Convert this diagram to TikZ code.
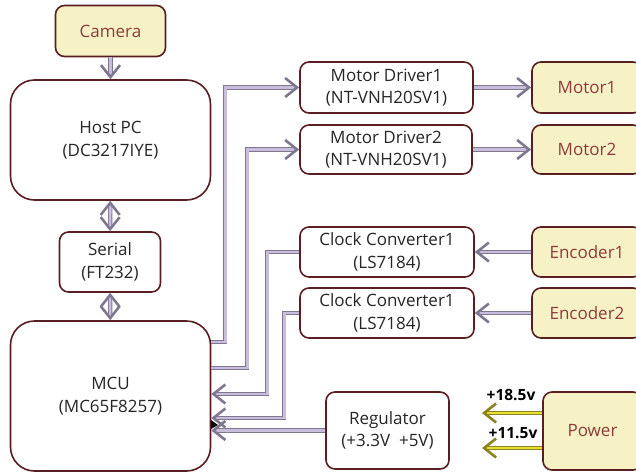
\documentclass[tikz,border=0pt]{standalone}
\usepackage{fontspec}
\setmainfont{Open Sans}
\usetikzlibrary{arrows.meta}
\definecolor{boxline}{HTML}{5A1E22}
\definecolor{yfill}{HTML}{F7F2C6}
\definecolor{ytext}{HTML}{8E3B3B}
\definecolor{lav}{HTML}{C8BEDC}
\definecolor{lavline}{HTML}{7F7790}
\definecolor{pyel}{HTML}{E6E032}
\definecolor{pyline}{HTML}{8A8420}
\tikzset{
  base/.style={draw=boxline, line width=1.6pt, rounded corners=9pt, align=center,
    font=\fontsize{17}{22.5}\selectfont, inner sep=0pt},
  wbox/.style={base, fill=white, text=black!85},
  ybox/.style={base, fill=yfill, text=ytext},
  tipx/.tip={Straight Barb[length=12pt,width=19pt,line width=2.6pt]},
  arr/.style={draw=lavline, line width=0.8pt, double=lav, double distance=2.6pt, -tipx},
  darr/.style={arr, tipx-tipx},
  parr/.style={draw=pyline, line width=0.8pt, double=pyel, double distance=2.6pt, -tipx},
  vlab/.style={font=\fontsize{15.5}{17}\selectfont\bfseries, text=black}
}
\begin{document}
\begin{tikzpicture}[x=1pt,y=-1pt]
\useasboundingbox (0,0) rectangle (636,474);
% nodes
\node[ybox, minimum width=110, minimum height=51] (cam) at (110.5,31) {Camera};
\node[wbox, rounded corners=24pt, minimum width=200, minimum height=120] (host) at (110.5,140) {Host PC\\(DC3217IYE)};
\node[wbox, minimum width=101, minimum height=60] (ser) at (110,262) {Serial\\(FT232)};
\node[wbox, rounded corners=24pt, minimum width=200, minimum height=150] (mcu) at (110.5,396) {MCU\\(MC65F8257)};
\node[wbox, minimum width=173, minimum height=51] (md1) at (386.5,87.5) {Motor Driver1\\(NT-VNH20SV1)};
\node[wbox, minimum width=172, minimum height=49] (md2) at (386,149.5) {Motor Driver2\\(NT-VNH20SV1)};
\node[wbox, minimum width=174, minimum height=50] (cc1) at (387,252) {Clock Converter1\\(LS7184)};
\node[wbox, minimum width=174, minimum height=50] (cc2) at (387,313) {Clock Converter1\\(LS7184)};
\node[wbox, minimum width=123, minimum height=77] (reg) at (387.5,430.5) {Regulator\\(+3.3V\ \ +5V)};
\node[ybox, minimum width=110, minimum height=51] (m1) at (587,87.5) {Motor1};
\node[ybox, minimum width=110, minimum height=49] (m2) at (587,149.5) {Motor2};
\node[ybox, minimum width=110, minimum height=50] (e1) at (587,252) {Encoder1};
\node[ybox, minimum width=110, minimum height=50] (e2) at (587,313) {Encoder2};
\node[ybox, minimum width=99, minimum height=78] (pw) at (592.5,431) {Power};
% connectors
\draw[arr] (cam) -- (host);
\draw[darr] (host) -- (ser);
\draw[darr] (ser) -- (mcu);
\draw[arr] ([yshift=54pt]mcu.east) -- ++(14,0) |- (md1.west);
\draw[arr] ([yshift=28pt]mcu.east) -- ++(36,0) |- (md2.west);
\draw[arr] (cc1.west) -- ++(-32,0) |- ([yshift=2pt]mcu.east);
\draw[arr] (cc2.west) -- ++(-15,0) |- ([yshift=-22pt]mcu.east);
\draw[arr] (reg.west) -- (reg.west -| mcu.east);
\draw[arr] (md1) -- (m1);
\draw[arr] (md2) -- (m2);
\draw[arr] (e1) -- (cc1);
\draw[arr] (e2) -- (cc2);
\coordinate (p1) at (482,413);
\coordinate (p2) at (482,448);
\draw[parr] (p1 -| pw.west) -- (p1);
\draw[parr] (p2 -| pw.west) -- (p2);
\node[vlab] (l1) at (511,395) {+18.5v};
\node[vlab] (l2) at (513,433) {+11.5v};
\fill[black] (211,420) -- (218,425) -- (211,429) -- cycle;
\end{tikzpicture}
\end{document}
